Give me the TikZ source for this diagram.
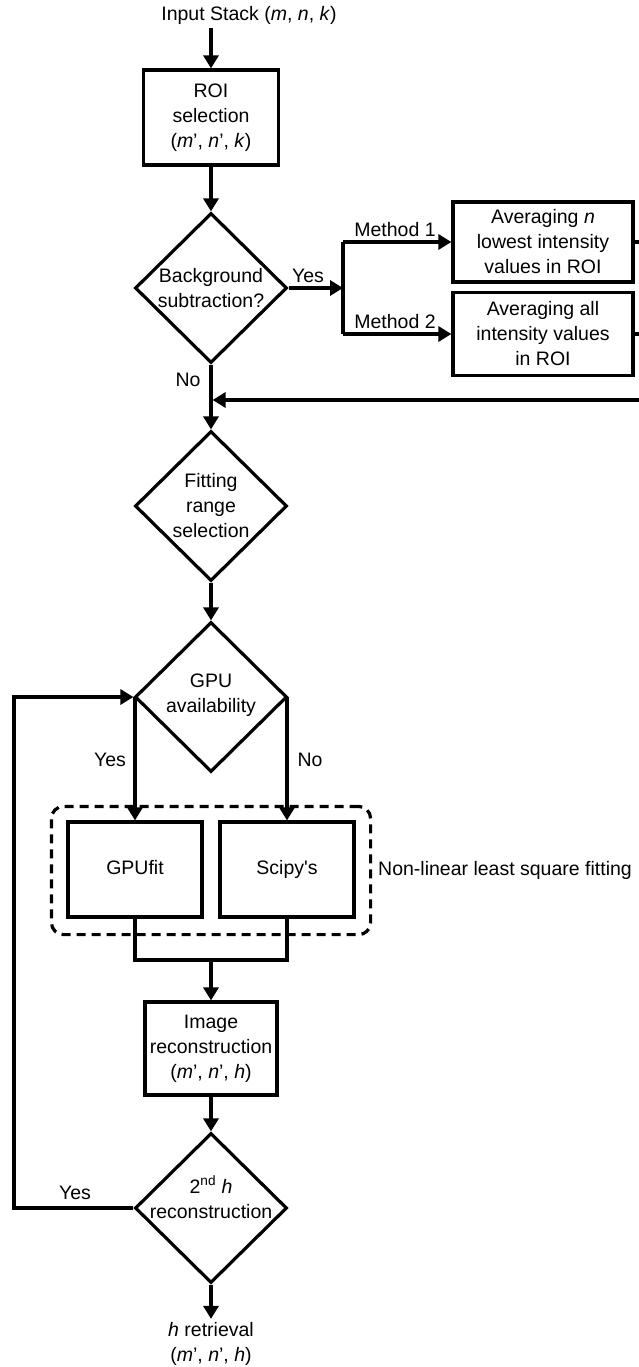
\documentclass[tikz,border=0pt]{standalone}
\usepackage{fontspec}
\setmainfont{Liberation Sans}
\usetikzlibrary{arrows.meta,shapes.geometric,fit}
\begin{document}
\begin{tikzpicture}[x=1pt,y=-1pt,
  every node/.style={font=\fontsize{19.5}{25}\selectfont},
  line/.style={line width=3.2pt},
  arr/.style={line width=3.2pt,-{Triangle[length=13pt,width=15pt]}},
  box/.style={draw,line width=3.2pt,align=center,inner sep=0pt},
  dia/.style={draw,diamond,line width=3.2pt,inner sep=0pt,minimum width=152pt,minimum height=150pt},
  grpbox/.style={draw,line width=3.2pt,dash pattern=on 9pt off 6pt,rounded corners=12pt}]
\useasboundingbox (0,0) rectangle (639,1367);

% input
\node (in) at (249,15) {Input Stack (\textit{m}, \textit{n}, \textit{k})};
\node[box,minimum width=135pt,minimum height=95pt] (roi) at (211,117.5) {ROI\\selection\\(\textit{m}', \textit{n}', \textit{k})};
\draw[arr] (in.south -| roi.north) -- (roi.north);

% background subtraction
\node[dia,label={[align=center]center:Background\\subtraction?}] (d1) at (211,288) {};
\draw[arr] (roi.south) -- (d1.north);
\coordinate (sp) at (343,288);
\coordinate (sp1) at (343,242);
\coordinate (sp2) at (343,334);
\draw[arr] (d1.east) -- (sp);
\node at (308,276) {Yes};
\node[box,minimum width=180pt,minimum height=80pt] (b1) at (543,242) {Averaging \textit{n}\\lowest intensity\\values in ROI};
\node[box,minimum width=180pt,minimum height=83pt] (b2) at (543,334) {Averaging all\\intensity values\\in ROI};
\draw[line] (sp1) -- (sp2);
\draw[arr] (sp1) -- (b1.west);
\draw[arr] (sp2) -- (b2.west);
\node at (395,230) {Method 1};
\node at (395,322) {Method 2};
\coordinate (e1) at (641,242);
\coordinate (e2) at (641,334);
\draw[line] (b1.east) -- (e1);
\draw[line] (b2.east) -- (e2);
\coordinate (r1) at (641,400);
\coordinate (r0) at (211,400);
\draw[arr,shorten >=1.6pt] (r1) -- (r0);
\node at (188,380) {No};

% fitting range
\node[dia,label={[align=center]center:Fitting\\range\\selection}] (d2) at (211,506) {};
\draw[arr] (d1.south) -- (d2.north);

% GPU availability
\node[dia,label={[align=center,yshift=2pt]center:GPU\\availability}] (d3) at (211,697) {};
\draw[arr] (d2.south) -- (d3.north);

\node[box,minimum width=134pt,minimum height=95pt,text height=14pt,text depth=4pt] (g) at (135,869.5) {GPUfit};
\node[box,minimum width=134pt,minimum height=95pt,text height=14pt,text depth=4pt] (s) at (287,869.5) {Scipy\textquotesingle s};
\draw[arr] (d3.west -| g.north) -- (g.north);
\draw[arr] (d3.east -| s.north) -- (s.north);
\node at (110,760) {Yes};
\node at (310,760) {No};
\node[grpbox,fit=(g)(s),inner xsep=15pt,inner ysep=15pt,yshift=-1pt] (grp) {};
\node[anchor=west,inner sep=0pt] (nl) at (378,870) {Non-linear least square fitting};

% merge
\coordinate (mg) at (211,960);
\draw[line] (g.south) |- (mg) -| (s.south);
\node[box,minimum width=132pt,minimum height=93pt] (ir) at (211,1048.5) {Image\\reconstruction\\(\textit{m}', \textit{n}', \textit{h})};
\draw[arr] (mg) -- (ir.north);

% 2nd h reconstruction
\node[dia,label={[align=center,yshift=11pt]center:2\textsuperscript{nd} \textit{h}\\reconstruction}] (d4) at (211,1208) {};
\draw[arr] (ir.south) -- (d4.north);
\coordinate (lp1) at (14,1208);
\coordinate (lp2) at (14,697);
\draw[arr] (d4.west) -- (lp1) -- (lp2) -- (d3.west);
\node at (75,1193) {Yes};

\node[align=center] (out) at (211,1344) {\textit{h} retrieval\\(\textit{m}', \textit{n}', \textit{h})};
\draw[arr] (d4.south) -- (out.north);
\end{tikzpicture}
\end{document}
